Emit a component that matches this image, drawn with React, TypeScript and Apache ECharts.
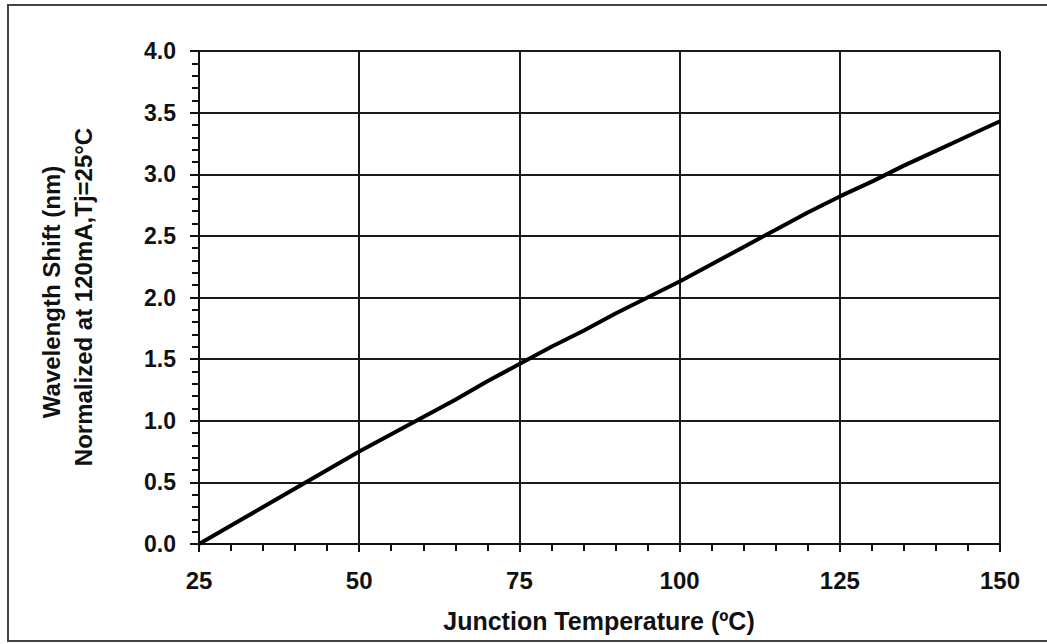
import React, { useEffect, useRef } from "react";
import * as echarts from "echarts";

const temperatures = [25, 30, 35, 40, 45, 50, 55, 60, 65, 70, 75, 80, 85, 90, 95, 100, 105, 110, 115, 120, 125, 130, 135, 140, 145, 150];
const wavelengthShift = [0.0, 0.15, 0.3, 0.45, 0.6, 0.75, 0.89, 1.03, 1.17, 1.32, 1.46, 1.6, 1.73, 1.87, 2.0, 2.13, 2.27, 2.41, 2.55, 2.69, 2.82, 2.94, 3.07, 3.19, 3.31, 3.43];

const xTitle = "Junction Temperature (ºC)";
const yTitle1 = "Wavelength Shift (nm)";
const yTitle2 = "Normalized at 120mA,Tj=25°C";

const FONT = "'Liberation Sans', Arial, sans-serif";

export default function App() {
  const ref = useRef<HTMLDivElement>(null);
  useEffect(() => {
    if (!ref.current) return;
    const chart = echarts.init(ref.current, undefined, { renderer: "svg" });
    const data = temperatures.map((t, i) => [t, wavelengthShift[i]]);
    chart.setOption({
      animation: false,
      backgroundColor: "#ffffff",
      grid: { left: 199, right: 47, top: 51, bottom: 100, containLabel: false },
      xAxis: {
        type: "value",
        min: 25,
        max: 150,
        interval: 25,
        axisLine: { show: true, onZero: false, lineStyle: { color: "#111", width: 2 } },
        axisTick: { show: true, inside: false, length: 8, lineStyle: { color: "#111", width: 2 } },
        minorTick: { show: true, splitNumber: 5, length: 7, lineStyle: { color: "#111", width: 2 } },
        splitLine: { show: true, showMinLine: true, showMaxLine: true, lineStyle: { color: "#1a1a1a", width: 2 } },
        axisLabel: { color: "#111", fontSize: 24, fontWeight: "bold", fontFamily: FONT, margin: 24 },
      },
      yAxis: {
        type: "value",
        min: 0,
        max: 4,
        interval: 0.5,
        axisLine: { show: true, onZero: false, lineStyle: { color: "#111", width: 2 } },
        axisTick: { show: true, inside: false, length: 9, lineStyle: { color: "#111", width: 2 } },
        minorTick: { show: true, splitNumber: 5, length: 7, lineStyle: { color: "#111", width: 2 } },
        splitLine: { show: true, showMinLine: true, showMaxLine: true, lineStyle: { color: "#1a1a1a", width: 2 } },
        axisLabel: {
          color: "#111",
          fontSize: 23,
          fontWeight: "bold",
          fontFamily: FONT,
          margin: 23,
          formatter: (v: number) => v.toFixed(1),
        },
      },
      series: [
        {
          type: "line",
          data,
          showSymbol: false,
          symbol: "none",
          smooth: false,
          lineStyle: { color: "#000", width: 4 },
          z: 5,
        },
      ],
      graphic: [
        {
          type: "rect",
          shape: { x: 8, y: 5, width: 1060, height: 636 },
          style: { fill: "none", stroke: "#444", lineWidth: 2 },
          silent: true,
          z: -1,
        },
        {
          type: "text",
          x: 599,
          y: 621,
          style: {
            text: xTitle,
            fill: "#111",
            font: `bold 25px ${FONT}`,
            textAlign: "center",
            textVerticalAlign: "middle",
          },
        },
        {
          type: "text",
          x: 51,
          y: 292,
          rotation: Math.PI / 2,
          style: {
            text: yTitle1,
            fill: "#111",
            font: `bold 24px ${FONT}`,
            textAlign: "center",
            textVerticalAlign: "middle",
          },
        },
        {
          type: "text",
          x: 83,
          y: 297,
          rotation: Math.PI / 2,
          style: {
            text: yTitle2,
            fill: "#111",
            font: `bold 24px ${FONT}`,
            textAlign: "center",
            textVerticalAlign: "middle",
          },
        },
      ],
    });
    return () => chart.dispose();
  }, []);
  return (
    <div
      ref={ref}
      style={{ position: "fixed", left: 0, top: 0, width: 1047, height: 644, background: "#fff" }}
    />
  );
}
